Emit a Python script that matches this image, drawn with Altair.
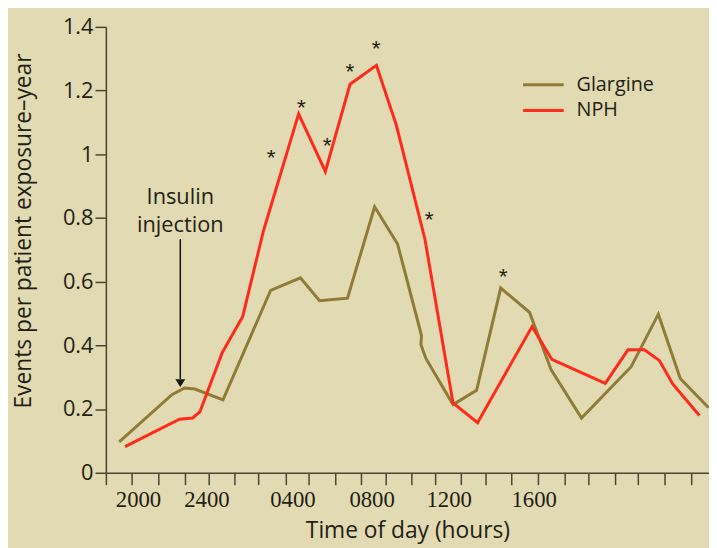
import altair as alt
import pandas as pd

# ---- data (time of day in hours; values past 24 are the next day) ----
gl_hour = [19.36, 22.00, 22.63, 23.15, 24.56, 26.95, 28.44, 29.40, 30.80, 32.16, 33.31,
           34.51, 34.48, 34.73, 36.09, 37.27, 38.48, 39.92, 41.01, 42.53, 45.02, 46.38,
           47.48, 48.90]
gl_val = [0.097, 0.245, 0.266, 0.263, 0.229, 0.573, 0.612, 0.540, 0.548, 0.835, 0.718,
          0.431, 0.403, 0.359, 0.214, 0.259, 0.580, 0.504, 0.323, 0.172, 0.333, 0.498,
          0.296, 0.204]
nph_hour = [19.65, 22.38, 23.04, 23.40, 24.52, 25.55, 26.59, 28.35, 29.69, 30.93, 32.25,
            33.25, 34.68, 36.09, 37.32, 40.05, 41.04, 43.72, 44.86, 45.68, 46.44, 47.11,
            48.44]
nph_val = [0.082, 0.168, 0.172, 0.191, 0.377, 0.491, 0.760, 1.127, 0.946, 1.220, 1.279,
           1.091, 0.734, 0.219, 0.157, 0.459, 0.356, 0.281, 0.386, 0.386, 0.352, 0.278,
           0.180]

# significance asterisks
star_hour = [26.97, 28.49, 29.78, 30.92, 32.24, 34.90, 38.60]
star_val = [1.008, 1.163, 1.044, 1.277, 1.350, 0.813, 0.632]

# axis tick positions and labels
x_ticks = [18.69, 19.98, 21.30, 22.63, 23.82, 25.15, 26.34, 27.70, 28.85, 30.17, 31.50,
           32.70, 34.02, 35.18, 36.50, 37.71, 39.03, 40.35, 41.67, 42.86, 44.20, 45.37,
           46.67, 48.01]
x_label_pos = [20.30, 23.73, 28.04, 32.01, 35.87, 40.13]
x_label_txt = ["2000", "2400", "0400", "0800", "1200", "1600"]
y_ticks = [0, 0.2, 0.4, 0.6, 0.8, 1.0, 1.2, 1.4]

# annotation
note_hour = 22.42
note_text_val = 0.8426
arrow_top = 0.734
arrow_bottom = 0.294
arrow_head = 0.2816

series = ["Glargine", "NPH"]
colors = ["#8f7a36", "#ff2a1a"]

BG = "#e2dab2"
INK = "#221e14"
AX = "#4a4232"
FONT = "Open Sans"

rows = []
for i, (h, v) in enumerate(zip(gl_hour, gl_val)):
    rows.append({"hour": h, "value": v, "series": "Glargine", "i": i})
for i, (h, v) in enumerate(zip(nph_hour, nph_val)):
    rows.append({"hour": h, "value": v, "series": "NPH", "i": i})
df = pd.DataFrame(rows)

stars = pd.DataFrame({"hour": star_hour, "value": star_val, "t": ["*"] * len(star_hour)})
arrow = pd.DataFrame({"hour": [note_hour], "top": [arrow_top], "bottom": [arrow_bottom],
                      "head": [arrow_head], "tv": [note_text_val],
                      "txt": ["Insulin\ninjection"]})

lv = "[" + ",".join(str(v) for v in x_label_pos) + "]"
lt = "[" + ",".join("'" + t + "'" for t in x_label_txt) + "]"
label_expr = f"indexof({lv}, datum.value) >= 0 ? {lt}[indexof({lv}, datum.value)] : ''"

x_scale = alt.Scale(domain=[18.69, 48.92], nice=False, zero=False)
y_scale = alt.Scale(domain=[0, 1.4], nice=False)

# axis carrying the tick marks (no labels)
x_tick_axis = alt.Axis(
    orient="bottom", values=x_ticks, labels=False, grid=False,
    tickSize=12, tickWidth=1.5, tickColor=AX,
    domainColor=AX, domainWidth=1.5, title=None,
)
# axis carrying the clock labels (no ticks, no line)
x_label_axis = alt.Axis(
    orient="bottom", values=x_label_pos, labelExpr=label_expr, grid=False,
    ticks=False, domain=False,
    labelFont="Liberation Sans Narrow", labelFontSize=23, labelColor=INK,
    labelPadding=16, labelOverlap=False, labelFlush=False,
    title="Time of day (hours)", titleFont=FONT, titleFontSize=23,
    titleFontWeight="normal", titleColor=INK, titleBaseline="alphabetic", titleY=65,
)
y_axis = alt.Axis(
    values=y_ticks, format="~g", grid=False,
    tickSize=11, tickWidth=1.5, tickColor=AX, domainColor=AX, domainWidth=1.5,
    labelFont=FONT, labelFontSize=22, labelColor=INK, labelPadding=2,
    title="Events per patient exposure\u2013year", titleFont=FONT, titleFontSize=23,
    titleFontWeight="normal", titleColor=INK, titleBaseline="alphabetic",
    titleX=-76, titleY=206,
)

lines = alt.Chart(df).mark_line(strokeWidth=3).encode(
    x=alt.X("hour:Q", scale=x_scale, axis=x_tick_axis),
    y=alt.Y("value:Q", scale=y_scale, axis=y_axis),
    color=alt.Color("series:N", scale=alt.Scale(domain=series, range=colors),
                    legend=alt.Legend(
                        orient="none", legendX=428, legendY=44, title=None,
                        symbolType="M-1.58,0L1.58,0", symbolSize=676,
                        symbolStrokeWidth=3,
                        labelFont=FONT, labelFontSize=20, labelColor=INK,
                        labelOffset=19, rowPadding=1, padding=0)),
    order="i:Q",
)

star_layer = alt.Chart(stars).mark_text(
    font="Liberation Sans", fontSize=23, color=INK, baseline="middle", dy=6
).encode(
    x=alt.X("hour:Q", scale=x_scale, axis=x_label_axis),
    y=alt.Y("value:Q", scale=y_scale),
    text="t:N",
)

arrow_line = alt.Chart(arrow).mark_rule(color="#15120c", strokeWidth=1.5).encode(
    x=alt.X("hour:Q", axis=None), y="top:Q", y2="bottom:Q")
arrow_tip = alt.Chart(arrow).mark_point(
    shape="M-1,-0.8L1,-0.8L0,0.8Z", size=100, filled=True, color="#15120c", opacity=1
).encode(x=alt.X("hour:Q", axis=None), y="head:Q")
note = alt.Chart(arrow).mark_text(
    font=FONT, fontSize=22, color=INK, align="center", baseline="alphabetic",
    lineBreak="\n", lineHeight=28
).encode(x=alt.X("hour:Q", axis=None), y="tv:Q", text="txt:N")

chart = alt.layer(lines, star_layer, arrow_line, arrow_tip, note).resolve_axis(
    x="independent"
).properties(
    width=610, height=451,
    autosize=alt.AutoSizeParams(type="none"),
    padding={"left": 99, "top": 16, "right": 0, "bottom": 73},
    background=BG,
).configure_view(stroke=None)

chart.save("out.html", embed_options={"renderer": "svg", "actions": False})
